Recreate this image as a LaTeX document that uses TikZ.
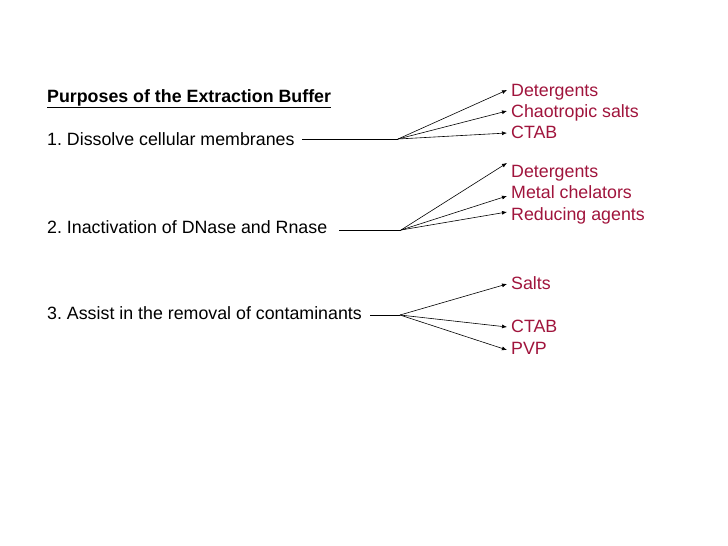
\documentclass[tikz,border=0pt]{standalone}
\usepackage{fontspec}
\setmainfont{Liberation Sans}
\usetikzlibrary{arrows.meta}
\begin{document}
\frenchspacing
\begin{tikzpicture}[x=1pt,y=-1pt,
  txt/.style={anchor=base west,inner sep=0pt,font=\fontsize{17.8}{20}\selectfont},
  red/.style={txt,text={rgb,255:red,160;green,20;blue,60}},
  arr/.style={-{Latex[length=5pt,width=4pt]},line width=0.6pt},
  ln/.style={line width=0.6pt}]
\useasboundingbox (0,0) rectangle (728,546);
\node[txt] (t) at (47,102) {\underline{\textbf{Purposes of the Extraction Buffer}}};
\node[txt] (a) at (47,145) {1. Dissolve cellular membranes};
\node[txt] (b) at (47,233) {2. Inactivation of DNase and Rnase};
\node[txt] (c) at (47,319) {3. Assist in the removal of contaminants};
\node[red] (a1) at (511,96) {Detergents};
\node[red] (a2) at (511,117) {Chaotropic salts};
\node[red] (a3) at (511,138) {CTAB};
\node[red] (b1) at (511,177) {Detergents};
\node[red] (b2) at (511,198) {Metal chelators};
\node[red] (b3) at (511,220) {Reducing agents};
\node[red] (c1) at (511,289) {Salts};
\node[red] (c2) at (511,332) {CTAB};
\node[red] (c3) at (511,354) {PVP};
\coordinate (as) at (302,139); \coordinate (af) at (398,139);
\coordinate (bs) at (339,230); \coordinate (bf) at (401,230);
\coordinate (cs) at (370,315); \coordinate (cf) at (400,315);
\draw[ln] (as) -- (af); \draw[ln] (bs) -- (bf); \draw[ln] (cs) -- (cf);
\coordinate (ta1) at (507,90); \coordinate (ta2) at (507,111); \coordinate (ta3) at (507,133);
\coordinate (tb1) at (507,163); \coordinate (tb2) at (507,196); \coordinate (tb3) at (507,212);
\coordinate (tc1) at (507,284); \coordinate (tc2) at (507,327); \coordinate (tc3) at (507,350);
\foreach \p in {a,b,c}{\foreach \i in {1,2,3}{\draw[arr] (\p f) -- (t\p\i);}}
\end{tikzpicture}
\end{document}
